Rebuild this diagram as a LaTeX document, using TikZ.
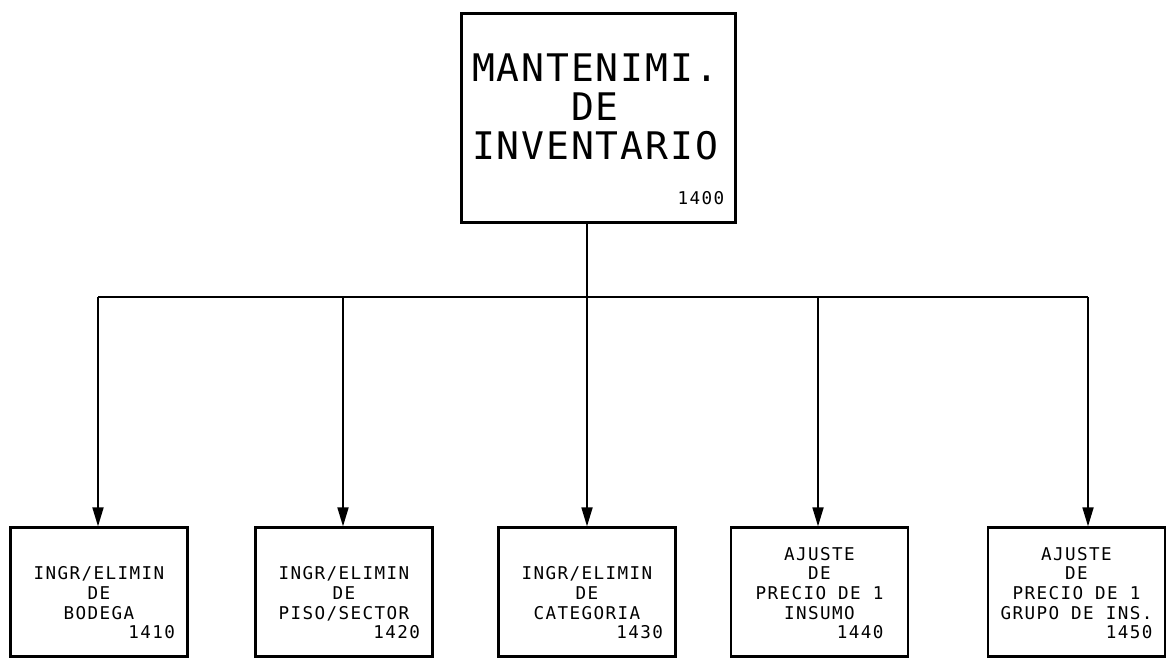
\documentclass[tikz,border=0pt]{standalone}
\usepackage{fontspec}
\usepackage{array}
\usetikzlibrary{arrows.meta}
\newfontfamily\titlefont[LetterSpace=5]{DejaVu Sans Mono}
\newfontfamily\plotfont[LetterSpace=8]{DejaVu Sans Mono}
\newcommand{\numr}[1]{\multicolumn{1}{@{}r@{}}{#1}}
\newcommand{\numx}[1]{\multicolumn{1}{@{}r@{}}{\rlap{\hphantom{0}\llap{#1}}}}

\begin{document}
\begin{tikzpicture}[x=0.5pt,y=-0.5pt,
        cajatop/.style={draw,line width=1.6pt,minimum width=137pt,minimum height=104.5pt,inner sep=0pt},
        caja/.style={draw,line width=1.4pt,minimum width=88.5pt,minimum height=64.25pt,inner sep=0pt},
        titulo/.style={font=\titlefont\fontsize{19}{19.5}\selectfont,align=center,inner sep=0pt},
        texto/.style={font=\plotfont\fontsize{8.8}{9.85}\selectfont,inner sep=0pt,anchor=south},
        numero/.style={font=\plotfont\fontsize{8.8}{9.85}\selectfont,inner sep=0pt,anchor=base east},
        linea/.style={line width=0.9pt},
        flecha/.style={line width=0.9pt,-{Triangle[length=9.5pt,width=5.5pt]}}]
                \useasboundingbox (0,0) rectangle (1170,660);
                \node[cajatop] (top) at (598.5,118) {};
                \node[titulo] (tt) at (595,106.5) {MANTENIMI.\\DE\\INVENTARIO};
                \node[numero] (n0) at ([shift={(-6.25pt,9.75pt)}]top.south east) {1400};
                \node[caja] (b1) at (99,592) {};
                \node[caja] (b2) at (344,592) {};
                \node[caja] (b3) at (587,592) {};
                \node[caja] (b4) at (819.5,592) {};
                \node[caja] (b5) at (1076.5,592) {};
                \node[texto] (t1) at ([yshift=6.25pt]b1.south) {\begin{tabular}{@{}c@{}}INGR/ELIMIN\\DE\\BODEGA\\\numx{1410}\end{tabular}};
                \node[texto] (t2) at ([yshift=6.25pt]b2.south) {\begin{tabular}{@{}c@{}}INGR/ELIMIN\\DE\\PISO/SECTOR\\\numx{1420}\end{tabular}};
                \node[texto] (t3) at ([yshift=6.25pt]b3.south) {\begin{tabular}{@{}c@{}}INGR/ELIMIN\\DE\\CATEGORIA\\\numx{1430}\end{tabular}};
                \node[texto] (t4) at ([yshift=6.25pt]b4.south) {\begin{tabular}{@{}c@{}}AJUSTE\\DE\\PRECIO DE 1\\INSUMO\\\numr{1440}\end{tabular}};
                \node[texto] (t5) at ([yshift=6.25pt]b5.south) {\begin{tabular}{@{}c@{}}AJUSTE\\DE\\PRECIO DE 1\\GRUPO DE INS.\\\numr{1450}\end{tabular}};
                \coordinate (k1) at (98,297);
                \coordinate (k2) at (343,297);
                \coordinate (k3) at (587,297);
                \coordinate (k4) at (818,297);
                \coordinate (k5) at (1088,297);
                \draw[linea] (k1) -- (k5);
                \draw[linea] (top.south -| k3) -- (k3);
                \foreach \i in {1,...,5}
                    \draw[flecha] (k\i) -- (k\i |- b\i.north);
            \end{tikzpicture}
\end{document}
